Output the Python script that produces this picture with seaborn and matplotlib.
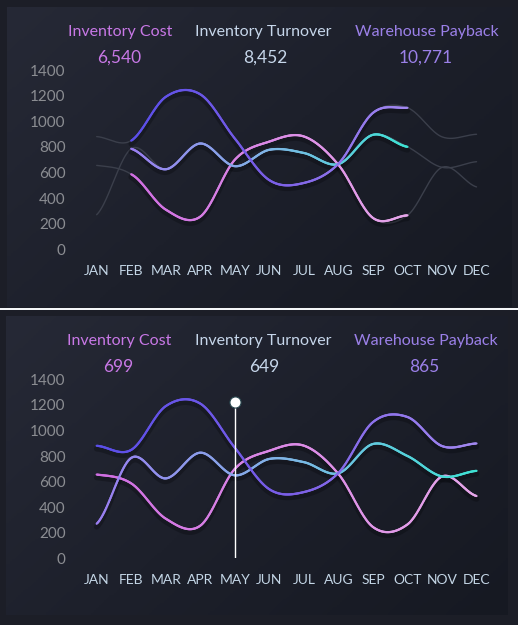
import numpy as np
import pandas as pd
import matplotlib
matplotlib.use("Agg")
import matplotlib.pyplot as plt
import matplotlib.transforms as mtransforms
from matplotlib.collections import LineCollection
from matplotlib.colors import LinearSegmentedColormap
import seaborn as sns

# ---------------- data ----------------
months = ["JAN", "FEB", "MAR", "APR", "MAY", "JUN", "JUL", "AUG", "SEP", "OCT", "NOV", "DEC"]
inventory_cost = [655, 586, 310, 255, 699, 841, 881, 660, 245, 265, 640, 487]
inventory_turnover = [270, 785, 625, 826, 649, 777, 752, 665, 894, 800, 640, 684]
warehouse_payback = [880, 848, 1190, 1210, 865, 540, 518, 668, 1065, 1105, 878, 898]
series_names = ["Inventory Cost", "Inventory Turnover", "Warehouse Payback"]
top_totals = ["6,540", "8,452", "10,771"]
bottom_values = ["699", "649", "865"]
selected_range = (1, 9)   # FEB..OCT highlighted in the top panel
marker_month = 4          # MAY
marker_top = 1225
yticks = [0, 200, 400, 600, 800, 1000, 1200, 1400]

# ---------------- style ----------------
sns.set_theme(style="dark")
plt.rcParams["font.family"] = ["Lato", "DejaVu Sans"]

W, H = 518, 625
fig = plt.figure(figsize=(W / 100, H / 100), dpi=100)
fig.patch.set_facecolor("#1c1e27")

title_colors = ["#c878e6", "#c6d6ea", "#9b80e8"]
grads = [
    ["#d06ee2", "#e6a6ea"],                 # cost
    ["#9a7ef0", "#7fb6e6", "#3ee2d4"],      # turnover
    ["#5a4ee8", "#7a5ee6", "#a288f0"],      # payback
]
cmaps = [LinearSegmentedColormap.from_list(f"g{i}", c) for i, c in enumerate(grads)]
all_series = [inventory_cost, inventory_turnover, warehouse_payback]


def px_rect(x0, y0, x1, y1):
    return [x0 / W, 1 - y1 / H, (x1 - x0) / W, (y1 - y0) / H]


def smooth(xv, yv, n=40):
    xv = np.asarray(xv, float)
    yv = np.asarray(yv, float)
    p = np.concatenate([[yv[0]], yv, [yv[-1]]])
    xs, ys = [], []
    for i in range(len(yv) - 1):
        p0, p1, p2, p3 = p[i], p[i + 1], p[i + 2], p[i + 3]
        m1 = (p2 - p0) / 2.0
        m2 = (p3 - p1) / 2.0
        t = np.linspace(0, 1, n, endpoint=False)
        h00 = 2 * t**3 - 3 * t**2 + 1
        h10 = t**3 - 2 * t**2 + t
        h01 = -2 * t**3 + 3 * t**2
        h11 = t**3 - t**2
        ys.append(h00 * p1 + h10 * m1 + h01 * p2 + h11 * m2)
        xs.append(xv[i] + t * (xv[i + 1] - xv[i]))
    xs.append([xv[-1]])
    ys.append([yv[-1]])
    return np.concatenate(xs), np.concatenate(ys)


def panel_bg(rect):
    bg = fig.add_axes(rect, zorder=0)
    gx = np.linspace(0, 1, 200)
    gy = np.linspace(0, 1, 120)
    GX, GY = np.meshgrid(gx, gy)
    val = (GX * 0.6 + GY * 0.4)
    cm = LinearSegmentedColormap.from_list("bg", ["#262936", "#1d202b", "#161922"])
    bg.imshow(val, cmap=cm, aspect="auto", extent=[0, 1, 0, 1], origin="upper")
    bg.set_axis_off()


def draw_grad(ax, xs, ys, cmap, lw=1.6):
    pts = np.column_stack([xs, ys]).reshape(-1, 1, 2)
    segs = np.concatenate([pts[:-1], pts[1:]], axis=1)
    norm = (xs[:-1] - xs.min()) / max(xs.max() - xs.min(), 1e-9)
    shadow = mtransforms.offset_copy(ax.transData, fig=fig, x=0, y=-3, units="dots")
    ax.plot(xs, ys, color="#05060a", lw=4.0, alpha=0.3, transform=shadow,
            solid_capstyle="round", zorder=2)
    lc = LineCollection(segs, colors=cmap(norm), linewidths=lw, capstyle="round", zorder=3)
    ax.add_collection(lc)


def setup_axes(rect):
    ax = fig.add_axes(rect, zorder=2)
    ax.set_facecolor("none")
    ax.set_xlim(-0.5, 11.5)
    ax.set_ylim(0, 1400)
    ax.set_xticks(range(12))
    ax.set_xticklabels(months, color="#c4d6e6", fontsize=10)
    ax.set_yticks(yticks)
    ax.set_yticklabels([str(v) for v in yticks], color="#8b8d92", fontsize=11)
    ax.tick_params(axis="x", length=0, pad=11)
    ax.tick_params(axis="y", length=0, pad=10)
    ax.grid(False)
    for s in ax.spines.values():
        s.set_visible(False)
    return ax


def header(y_title, y_num, xs_title, xs_num, nums):
    for i in range(3):
        fig.text(xs_title[i] / W, 1 - y_title / H, series_names[i], color=title_colors[i],
                 fontsize=11.5, ha="center", va="center")
        fig.text(xs_num[i] / W, 1 - y_num / H, nums[i], color=title_colors[i],
                 fontsize=12.5, ha="center", va="center")


xpos = np.arange(12)

# ---------------- top panel ----------------
panel_bg(px_rect(7, 7, 512, 307))
ax1 = setup_axes([79.4 / W, 1 - 249.3 / H, 414.4 / W, (249.3 - 70) / H])
a, b = selected_range
for i, ser in enumerate(all_series):
    xs, ys = smooth(xpos, ser)
    df = pd.DataFrame({"x": xs, "y": ys})
    sns.lineplot(data=df, x="x", y="y", ax=ax1, color="#3b3f4b", lw=1.0,
                 sort=False, estimator=None, zorder=1)
for i, ser in enumerate(all_series):
    xs, ys = smooth(xpos[a:b + 1], ser[a:b + 1])
    draw_grad(ax1, xs, ys, cmaps[i])
ax1.set_xlabel("")
ax1.set_ylabel("")
header(32, 58, [120.5, 263.7, 426.8], [119, 265.7, 425.7], top_totals)

# separator
sep = fig.add_axes([0, 1 - 309.5 / H, 1, 2 / H], zorder=5)
sep.set_facecolor("#f4f6f8")
sep.set_xticks([])
sep.set_yticks([])
for s in sep.spines.values():
    s.set_visible(False)

# ---------------- bottom panel ----------------
panel_bg(px_rect(6, 316, 508, 615))
ax2 = setup_axes([79.4 / W, 1 - 558.3 / H, 414.4 / W, (558.3 - 379.3) / H])
for i, ser in enumerate(all_series):
    xs, ys = smooth(xpos, ser)
    draw_grad(ax2, xs, ys, cmaps[i])
ax2.plot([marker_month, marker_month], [0, marker_top], color="#ffffff", lw=1.0, zorder=4)
ax2.plot([marker_month], [marker_top], marker="o", markersize=8, color="#ffffff",
         markeredgecolor="#2a4850", markeredgewidth=0.8, zorder=5, clip_on=False)
header(341.5, 367, [119.5, 263, 425.8], [118, 264.7, 424.3], bottom_values)

fig.savefig("out.png", dpi=100, facecolor=fig.get_facecolor())
